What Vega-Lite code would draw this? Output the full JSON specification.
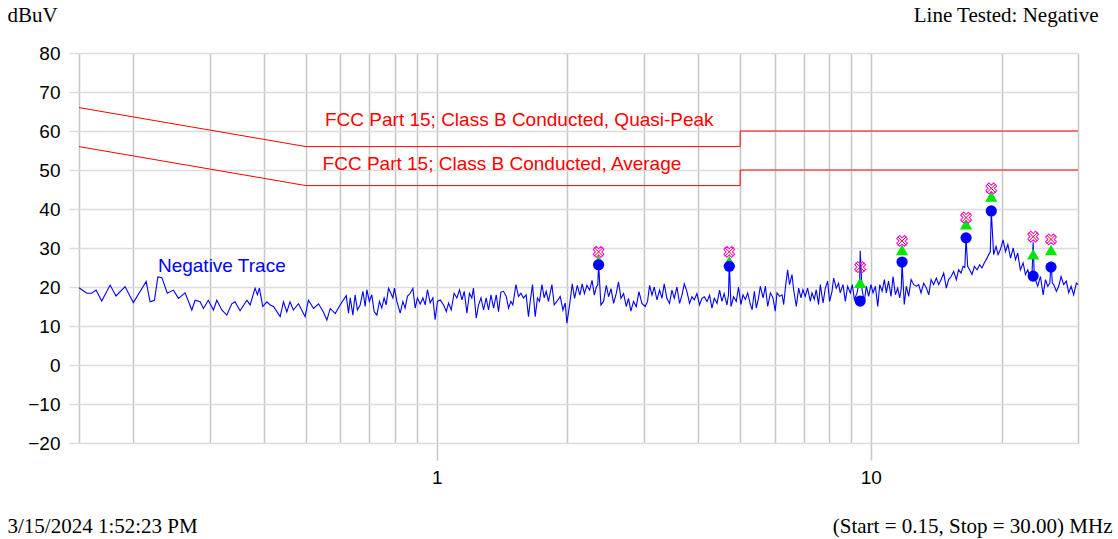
{
"$schema": "https://vega.github.io/schema/vega-lite/v6.json",
"width": 999, "height": 390,
"autosize": {"type": "none"},
"padding": {"left": 79, "top": 53, "right": 40, "bottom": 96},
"background": "white",
"config": {"view": {"stroke": null}, "axis": {"labelFont": "Liberation Sans", "titleFont": "Liberation Serif", "titleFontWeight": "normal", "titleFontSize": 21, "titleColor": "#000000", "labelColor": "#000000"}},
"datasets": {
"trace": [
{"f":0.15,"v":19.8},{"f":0.1563,"v":18.4},{"f":0.1604,"v":18.4},{"f":0.1642,"v":19.2},{"f":0.1692,"v":16.4},{"f":0.1769,"v":20.5},{"f":0.1825,"v":17.7},{"f":0.1915,"v":20.1},{"f":0.2001,"v":16.0},{"f":0.2142,"v":21.4},{"f":0.2187,"v":16.2},{"f":0.2238,"v":16.6},{"f":0.2279,"v":22.6},{"f":0.2328,"v":22.4},{"f":0.2396,"v":18.4},{"f":0.2475,"v":19.2},{"f":0.2542,"v":17.1},{"f":0.2633,"v":18.5},{"f":0.2729,"v":14.1},{"f":0.2776,"v":16.6},{"f":0.2851,"v":16.2},{"f":0.2902,"v":14.5},{"f":0.2978,"v":16.6},{"f":0.306,"v":14.1},{"f":0.3116,"v":16.6},{"f":0.3198,"v":14.1},{"f":0.3285,"v":12.8},{"f":0.3372,"v":15.7},{"f":0.3432,"v":16.2},{"f":0.3525,"v":13.9},{"f":0.3653,"v":16.6},{"f":0.3718,"v":15.4},{"f":0.3816,"v":19.7},{"f":0.3864,"v":18.0},{"f":0.3905,"v":19.7},{"f":0.3975,"v":15.0},{"f":0.4062,"v":16.2},{"f":0.4135,"v":15.4},{"f":0.4208,"v":15.0},{"f":0.4359,"v":12.4},{"f":0.4436,"v":16.2},{"f":0.4516,"v":13.6},{"f":0.4593,"v":16.2},{"f":0.4676,"v":14.1},{"f":0.4804,"v":15.7},{"f":0.4975,"v":12.4},{"f":0.5064,"v":16.6},{"f":0.5204,"v":14.5},{"f":0.5343,"v":15.7},{"f":0.5483,"v":13.6},{"f":0.5585,"v":11.5},{"f":0.5686,"v":14.5},{"f":0.5838,"v":13.2},{"f":0.5991,"v":15.4},
{"f":0.6189,"v":17.8},{"f":0.6265,"v":13.3},{"f":0.6321,"v":17.2},{"f":0.6411,"v":12.8},{"f":0.6487,"v":18.0},{"f":0.6568,"v":14.1},{"f":0.6664,"v":15.4},{"f":0.6761,"v":18.9},{"f":0.6843,"v":15.0},{"f":0.6904,"v":19.3},{"f":0.6996,"v":16.3},{"f":0.7088,"v":18.0},{"f":0.7177,"v":13.7},{"f":0.7281,"v":12.8},{"f":0.7381,"v":16.3},{"f":0.7473,"v":14.6},{"f":0.7566,"v":17.2},{"f":0.7649,"v":15.4},{"f":0.7744,"v":19.7},{"f":0.7843,"v":18.4},{"f":0.7926,"v":17.2},{"f":0.7992,"v":19.7},{"f":0.8096,"v":16.3},{"f":0.8239,"v":13.3},{"f":0.8357,"v":16.3},{"f":0.8457,"v":14.6},{"f":0.8561,"v":17.6},{"f":0.8687,"v":18.4},{"f":0.8813,"v":19.6},{"f":0.8921,"v":14.6},{"f":0.9029,"v":17.2},{"f":0.9162,"v":15.6},{"f":0.9294,"v":17.2},{"f":0.9407,"v":15.4},{"f":0.9521,"v":19.3},{"f":0.966,"v":15.9},{"f":0.9799,"v":17.2},{"f":0.9918,"v":11.6},{"f":1.0039,"v":16.3},{"f":1.0189,"v":16.7},{"f":1.0372,"v":15.4},{"f":1.0522,"v":13.7},{"f":1.065,"v":15.9},{"f":1.08,"v":14.1},{"f":1.0967,"v":18.4},{"f":1.1128,"v":17.2},{"f":1.1287,"v":19.3},{"f":1.1433,"v":16.7},{"f":1.1573,"v":18.9},{"f":1.1738,"v":13.3},{"f":1.1896,"v":18.4},{"f":1.2047,"v":17.2},{"f":1.2153,"v":19.7},{"f":1.2333,"v":12.0},{"f":1.2487,"v":15.4},{"f":1.2647,"v":17.2},{"f":1.282,"v":14.1},{"f":1.30,"v":17.2},{"f":1.3164,"v":14.1},{"f":1.3336,"v":18.0},{"f":1.3521,"v":14.6},{"f":1.3714,"v":18.0},{"f":1.3879,"v":13.7},{"f":1.4054,"v":18.7},{"f":1.4254,"v":18.9},{"f":1.4462,"v":17.6},{"f":1.4638,"v":14.6},{"f":1.4823,"v":16.3},{"f":1.4977,"v":15.4},{"f":1.5221,"v":20.6},{"f":1.5434,"v":17.6},{"f":1.5631,"v":18.4},{"f":1.5844,"v":17.2},{"f":1.607,"v":18.0},{"f":1.6272,"v":12.4},{"f":1.6421,"v":16.3},{"f":1.6623,"v":20.6},{"f":1.686,"v":12.4},{"f":1.7065,"v":17.2},{"f":1.725,"v":16.3},{"f":1.7472,"v":20.6},{"f":1.7685,"v":17.2},{"f":1.787,"v":18.9},{"f":1.8088,"v":16.3},{"f":1.8422,"v":20.6},{"f":1.8647,"v":15.4},{"f":1.8912,"v":16.3},{"f":1.925,"v":17.6},{"f":1.9531,"v":14.1},{"f":1.9771,"v":15.9},{"f":1.9948,"v":10.7},{"f":2.0233,"v":15.4},
{"f":2.0522,"v":20.8},{"f":2.0778,"v":17.1},{"f":2.1078,"v":20.4},{"f":2.1367,"v":17.9},{"f":2.1633,"v":20.8},{"f":2.1889,"v":18.3},{"f":2.2183,"v":20.4},{"f":2.25,"v":19.2},{"f":2.2793,"v":21.7},{"f":2.3073,"v":17.9},{"f":2.3317,"v":20.0},{"f":2.35,"v":20.5},{"f":2.36,"v":26.0},{"f":2.389,"v":15.4},{"f":2.4225,"v":16.3},{"f":2.4583,"v":20.4},{"f":2.4887,"v":17.5},{"f":2.5205,"v":19.6},{"f":2.555,"v":15.8},{"f":2.5907,"v":18.3},{"f":2.6229,"v":21.3},{"f":2.6571,"v":17.1},{"f":2.6943,"v":18.3},{"f":2.7329,"v":15.0},{"f":2.7657,"v":17.1},{"f":2.80,"v":13.8},{"f":2.84,"v":16.3},{"f":2.8815,"v":15.0},{"f":2.9231,"v":18.8},{"f":2.9692,"v":15.8},{"f":3.0215,"v":15.0},{"f":3.0595,"v":16.3},{"f":3.0926,"v":20.4},{"f":3.1322,"v":17.9},{"f":3.1702,"v":20.0},{"f":3.2157,"v":16.7},{"f":3.2609,"v":19.2},{"f":3.3026,"v":17.1},{"f":3.3426,"v":20.8},{"f":3.3896,"v":17.1},{"f":3.4374,"v":15.8},{"f":3.4822,"v":19.2},{"f":3.5252,"v":17.1},{"f":3.5757,"v":20.0},{"f":3.6255,"v":15.8},{"f":3.6725,"v":17.9},{"f":3.7176,"v":20.8},{"f":3.7706,"v":18.8},{"f":3.8227,"v":15.8},{"f":3.8722,"v":17.5},{"f":3.9196,"v":16.7},{"f":3.9753,"v":18.3},{"f":4.0309,"v":15.4},{"f":4.0838,"v":17.1},{"f":4.1346,"v":17.5},{"f":4.1941,"v":16.3},{"f":4.2515,"v":17.9},{"f":4.3047,"v":14.6},{"f":4.3586,"v":17.1},{"f":4.4219,"v":15.8},{"f":4.4828,"v":19.2},{"f":4.5391,"v":16.3},{"f":4.593,"v":18.3},{"f":4.6611,"v":15.4},{"f":4.6994,"v":18.0},{"f":4.72,"v":26.3},{"f":4.7631,"v":15.0},{"f":4.8293,"v":17.5},{"f":4.8981,"v":16.3},{"f":4.9567,"v":20.0},{"f":5.0196,"v":15.5},
{"f":5.0754,"v":18.0},{"f":5.1397,"v":16.8},{"f":5.2039,"v":18.5},{"f":5.2793,"v":15.5},{"f":5.3268,"v":14.2},{"f":5.3911,"v":18.9},{"f":5.4469,"v":14.6},{"f":5.5122,"v":17.2},{"f":5.564,"v":20.2},{"f":5.6463,"v":17.2},{"f":5.7165,"v":20.2},{"f":5.7866,"v":15.0},{"f":5.8689,"v":18.5},{"f":5.9512,"v":17.2},{"f":6.0232,"v":13.8},{"f":6.0795,"v":18.5},{"f":6.1656,"v":17.6},{"f":6.245,"v":18.0},{"f":6.298,"v":15.5},{"f":6.3543,"v":19.7},{"f":6.4305,"v":24.4},{"f":6.4967,"v":20.6},{"f":6.5821,"v":23.2},{"f":6.6393,"v":19.3},{"f":6.7357,"v":15.0},{"f":6.8179,"v":19.7},{"f":6.9036,"v":17.2},{"f":6.975,"v":19.3},{"f":7.0615,"v":17.6},{"f":7.15,"v":19.7},{"f":7.2538,"v":16.3},{"f":7.3192,"v":18.5},{"f":7.4077,"v":16.8},{"f":7.4846,"v":19.3},{"f":7.5785,"v":15.5},{"f":7.6488,"v":20.6},{"f":7.7603,"v":15.9},{"f":7.8554,"v":19.7},{"f":7.9504,"v":21.5},{"f":8.0348,"v":16.3},{"f":8.1391,"v":18.9},{"f":8.2087,"v":22.3},{"f":8.3261,"v":19.7},{"f":8.4261,"v":21.0},
{"f":8.5,"v":18.5},{"f":8.6262,"v":20.6},{"f":8.7336,"v":16.3},{"f":8.8411,"v":20.2},{"f":8.9673,"v":18.5},{"f":9.0637,"v":20.6},{"f":9.1618,"v":16.8},{"f":9.2941,"v":18.5},{"f":9.3725,"v":20.6},{"f":9.42,"v":20.0},{"f":9.45,"v":29.3},{"f":9.5412,"v":19.3},{"f":9.6598,"v":16.3},{"f":9.7629,"v":20.2},{"f":9.8814,"v":17.6},{"f":10.006,"v":20.6},{"f":10.117,"v":18.5},{"f":10.244,"v":20.2},{"f":10.372,"v":15.0},{"f":10.483,"v":20.6},{"f":10.617,"v":18.9},{"f":10.744,"v":21.9},{"f":10.856,"v":18.5},{"f":10.983,"v":21.5},{"f":11.128,"v":17.6},{"f":11.25,"v":22.7},{"f":11.39,"v":18.0},{"f":11.53,"v":19.7},{"f":11.652,"v":17.2},{"f":11.75,"v":19.5},{"f":11.8,"v":26.3},{"f":11.939,"v":15.5},{"f":12.067,"v":20.2},{"f":12.22,"v":17.6},{"f":12.38,"v":21.9},{"f":12.553,"v":20.6},{"f":12.733,"v":20.2},{"f":12.887,"v":20.6},{"f":13.05,"v":18.5},{"f":13.236,"v":21.0},{"f":13.429,"v":19.7},{"f":13.593,"v":18.0},{"f":13.764,"v":21.9},{"f":13.95,"v":20.6},{"f":14.154,"v":22.3},{"f":14.331,"v":20.6},{"f":14.515,"v":21.9},{"f":14.715,"v":23.6},{"f":14.923,"v":19.7},{"f":15.107,"v":21.9},{"f":15.303,"v":22.7},{"f":15.516,"v":24.0},{"f":15.738,"v":21.9},{"f":15.926,"v":24.4},{"f":16.132,"v":23.6},{"f":16.307,"v":25.3},{"f":16.46,"v":25.0},{"f":16.57,"v":32.6},{"f":16.71,"v":25.3},{"f":16.886,"v":24.4},{"f":17.1,"v":23.2},{"f":17.315,"v":25.3},{"f":17.565,"v":24.4},{"f":17.806,"v":25.7},{"f":18.03,"v":24.9},{"f":18.255,"v":26.2},{"f":18.52,"v":27.4},{"f":18.676,"v":28.3},{"f":18.84,"v":29.0},{"f":18.94,"v":39.4},{"f":19.177,"v":28.3},{"f":19.427,"v":30.4},{"f":19.635,"v":28.3},{"f":19.875,"v":29.6},{"f":20.167,"v":32.1},{"f":20.42,"v":29.1},{"f":20.678,"v":30.9},{"f":20.978,"v":27.4},{"f":21.278,"v":30.0},{"f":21.533,"v":27.0},{"f":21.789,"v":28.7},{"f":22.098,"v":24.4},{"f":22.427,"v":26.2},{"f":22.707,"v":23.2},{"f":22.988,"v":24.4},{"f":23.317,"v":21.9},{"f":23.5,"v":23.0},{"f":23.65,"v":31.5},{"f":23.8,"v":22.0},{"f":23.93,"v":21.9},{"f":24.225,"v":20.2},{"f":24.583,"v":22.7},{"f":24.94,"v":18.0},{"f":25.245,"v":21.9},{"f":25.55,"v":20.2},{"f":25.84,"v":21.0},{"f":26.0,"v":26.5},{"f":26.18,"v":21.0},{"f":26.37,"v":20.6},{"f":26.754,"v":18.9},{"f":27.08,"v":20.2},{"f":27.426,"v":22.7},{"f":27.8,"v":20.6},{"f":28.2,"v":21.5},{"f":28.554,"v":18.5},{"f":28.923,"v":20.2},{"f":29.32,"v":18.0},{"f":29.74,"v":21.0},{"f":30.0,"v":20.6}
],
"limits": [
{"lim":"QP","i":0,"f":0.15,"v":66},{"lim":"QP","i":1,"f":0.5,"v":56},{"lim":"QP","i":2,"f":5,"v":56},{"lim":"QP","i":3,"f":5,"v":60},{"lim":"QP","i":4,"f":30,"v":60},
{"lim":"Avg","i":0,"f":0.15,"v":56},{"lim":"Avg","i":1,"f":0.5,"v":46},{"lim":"Avg","i":2,"f":5,"v":46},{"lim":"Avg","i":3,"f":5,"v":50},{"lim":"Avg","i":4,"f":30,"v":50}
],
"labels": [
{"label":"FCC Part 15; Class B Conducted, Quasi-Peak","kind":"limit","f":0.553,"v":62.9},
{"label":"FCC Part 15; Class B Conducted, Average","kind":"limit","f":0.546,"v":51.6},
{"label":"Negative Trace","kind":"trace","f":0.228,"v":25.3}
],
"peaks": [
{"det":"Peak","f":2.36,"v":29.0},{"det":"Peak","f":4.72,"v":29.0},{"det":"Peak","f":9.45,"v":25.1},{"det":"Peak","f":11.8,"v":31.8},{"det":"Peak","f":16.57,"v":37.8},{"det":"Peak","f":18.94,"v":45.3},{"det":"Peak","f":23.65,"v":32.9},{"det":"Peak","f":26.0,"v":32.2},
{"det":"QP","f":2.36,"v":26.8},{"det":"QP","f":4.72,"v":26.6},{"det":"QP","f":9.45,"v":21.1},{"det":"QP","f":11.8,"v":29.5},{"det":"QP","f":16.57,"v":36.1},{"det":"QP","f":18.94,"v":43.2},{"det":"QP","f":23.65,"v":28.4},{"det":"QP","f":26.0,"v":29.5},
{"det":"Avg","f":2.36,"v":25.7},{"det":"Avg","f":4.72,"v":25.3},{"det":"Avg","f":9.45,"v":16.4},{"det":"Avg","f":11.8,"v":26.4},{"det":"Avg","f":16.57,"v":32.6},{"det":"Avg","f":18.94,"v":39.5},{"det":"Avg","f":23.65,"v":22.8},{"det":"Avg","f":26.0,"v":25.1}
]
},
"layer": [
{
"encoding": {
"x": {"field": "f", "type": "quantitative", "scale": {"type": "log", "domain": [0.15, 30], "nice": false},
 "axis": {"values": [0.15,0.2,0.3,0.4,0.5,0.6,0.7,0.8,0.9,1,2,3,4,5,6,7,8,9,10,20,30], "grid": true, "gridColor": "#c6c6c6", "gridWidth": 1.5, "domain": false, "tickSize": 17, "tickWidth": 1.5,
  "tickColor": {"condition": {"test": "datum.value == 1 || datum.value == 10", "value": "#c6c6c6"}, "value": "rgba(0,0,0,0)"},
  "labelExpr": "datum.value == 1 ? '1' : (datum.value == 10 ? '10' : '')", "labelFontSize": 19, "labelPadding": 8, "labelOverlap": false, "labelFlush": false,
  "title": "3/15/2024 1:52:23 PM", "titleAlign": "left", "titleBaseline": "alphabetic", "titleX": -72, "titleY": 89}},
"y": {"field": "v", "type": "quantitative", "scale": {"domain": [-20, 80], "nice": false},
 "axis": {"values": [-20,-10,0,10,20,30,40,50,60,70,80], "grid": true, "gridColor": "#dcdcdc", "gridWidth": 1.5, "domain": false, "tickSize": 10, "tickColor": "#dcdcdc", "tickWidth": 1.5, "labelFontSize": 19, "labelPadding": 9,
  "title": "dBuV", "titleAngle": 0, "titleAlign": "left", "titleBaseline": "alphabetic", "titleX": -72, "titleY": -32}}
},
"layer": [
{"data": {"name": "trace"}, "mark": {"type": "line", "color": "#0000ff", "strokeWidth": 1.1}},
{"data": {"name": "labels"}, "mark": {"type": "text", "align": "left", "baseline": "middle", "font": "Liberation Sans", "fontSize": 19},
 "encoding": {"text": {"field": "label"}, "color": {"field": "kind", "type": "nominal", "scale": {"domain": ["limit", "trace"], "range": ["#ff0000", "#0000ff"]}, "legend": null}}},
{"data": {"name": "peaks"}, "transform": [{"filter": "datum.det == 'QP'"}], "mark": {"type": "point", "shape": "triangle-up", "filled": true, "color": "#00e600", "opacity": 1, "size": 150}},
{"data": {"name": "peaks"}, "transform": [{"filter": "datum.det == 'Avg'"}], "mark": {"type": "point", "shape": "circle", "filled": true, "color": "#0000ff", "opacity": 1, "size": 125}},
{"data": {"name": "peaks"}, "transform": [{"filter": "datum.det == 'Peak'"}], "mark": {"type": "point", "shape": "cross", "angle": 45, "filled": false, "color": "#ff00ff", "opacity": 1, "size": 120, "strokeWidth": 1}},
{"data": {"name": "peaks"}, "transform": [{"filter": "datum.det == 'Peak'"}], "mark": {"type": "point", "shape": "M-0.8,-0.8L0.8,0.8M-0.8,0.8L0.8,-0.8", "filled": false, "color": "#ff0000", "opacity": 1, "size": 120, "strokeWidth": 1}}
]
},
{
"data": {"name": "limits"},
"mark": {"type": "line", "color": "#ff0000", "strokeWidth": 1},
"encoding": {
"x": {"field": "f", "type": "quantitative", "scale": {"type": "log", "domain": [0.15, 30], "nice": false},
 "axis": {"orient": "bottom", "title": "(Start = 0.15, Stop = 30.00) MHz", "labels": false, "ticks": false, "domain": false, "grid": false, "titleAlign": "right", "titleBaseline": "alphabetic", "titleX": 1033, "titleY": 89}},
"y": {"field": "v", "type": "quantitative", "scale": {"domain": [-20, 80], "nice": false},
 "axis": {"orient": "right", "title": "Line Tested: Negative", "labels": false, "ticks": false, "domain": false, "grid": false, "titleAngle": 0, "titleAlign": "right", "titleBaseline": "alphabetic", "titleX": 20, "titleY": -32}},
"detail": {"field": "lim"},
"order": {"field": "i", "type": "quantitative"}
}
}
],
"resolve": {"axis": {"x": "independent", "y": "independent"}}
}
